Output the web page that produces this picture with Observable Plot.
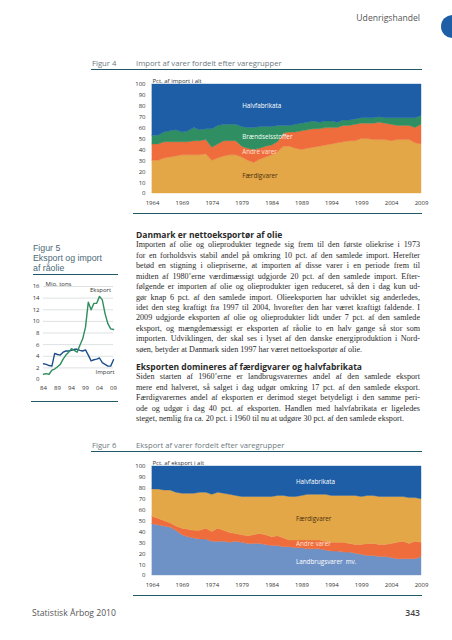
<!DOCTYPE html>
<html><head><meta charset="utf-8">
<script src="https://cdn.jsdelivr.net/npm/d3@7"></script>
<script src="https://cdn.jsdelivr.net/npm/@observablehq/plot@0.6"></script>
<style>
html,body{margin:0;padding:0;background:#fff;}
body{width:452px;height:640px;position:relative;overflow:hidden;font-family:"Open Sans",sans-serif;}
.t{position:absolute;white-space:nowrap;line-height:1;}
.rule{position:absolute;height:1.2px;background:#1f5968;}
.fig{position:absolute;}
.figlab{position:absolute;font-size:7.7px;color:#6c7a80;white-space:nowrap;line-height:1;}
.figtitle{position:absolute;font-size:7.7px;color:#6c7a80;white-space:nowrap;line-height:1;}
.body{position:absolute;left:136px;width:284px;font-family:"Liberation Serif",serif;font-size:8.1px;color:#2a2a2a;}
.line{position:absolute;left:0;width:284px;height:10px;line-height:10px;text-align:justify;text-align-last:justify;}
.line.last{text-align:left;text-align-last:left;}
.head{position:absolute;left:0;font-family:"Open Sans",sans-serif;font-weight:700;font-size:8.5px;color:#2a2a2a;white-space:nowrap;line-height:10px;}
.cap5{position:absolute;left:33px;font-family:"Liberation Sans",sans-serif;font-size:8.8px;line-height:1;color:#4b6a77;white-space:nowrap;}
</style></head>
<body>
<div id="root"></div>
<script>
// ---------- data ----------
const years = [1964,1965,1966,1967,1968,1969,1970,1971,1972,1973,1974,1975,1976,1977,1978,1979,1980,1981,1982,1983,1984,1985,1986,1987,1988,1989,1990,1991,1992,1993,1994,1995,1996,1997,1998,1999,2000,2001,2002,2003,2004,2005,2006,2007,2008,2009];
const yearTicks = [1964,1969,1974,1979,1984,1989,1994,1999,2004,2009];
const pctTicks = [0,10,20,30,40,50,60,70,80,90,100];

// Figur 4: import shares (pct.)
const impGroups = ["Færdigvarer","Andre varer","Brændselsstoffer","Halvfabrikata"];
const impFaerdig = [30,30,32,33,34,35,35,35,35,36,30,32,34,35,35,33,30,28,31,33,35,38,43,43,41,40,41,42,43,44,45,46,47,48,48,50,50,49,49,49,48,49,49,49,46,45];
const impAndre = [15,15,15,14,13,12,12,13,13,13,12,13,14,13,13,10,11,12,10,10,9,9,12,13,15,17,17,17,16,16,15,14,15,14,15,14,14,15,16,15,15,13,13,13,14,18];
const impBraendsel = [8,8,9,10,11,9,10,12,10,10,17,17,15,15,15,18,19,20,20,18,17,15,7,6,7,7,7,7,6,6,6,5,5,5,5,5,5,5,5,5,6,7,7,7,9,8];
const impHalv = [47,47,44,43,42,44,43,40,42,41,41,38,37,37,37,39,40,40,39,39,39,38,38,38,37,36,35,34,35,34,34,35,33,33,32,31,31,31,30,31,31,31,31,31,31,29];

// Figur 6: export shares (pct.)
const expGroups = ["Landbrugsvarer  mv.","Andre varer","Færdigvarer","Halvfabrikata"];
const expLandbrug = [47,46,45,44,41,37,35,34,33,33,31,31,31,30,31,30,29,29,29,28,27,27,26,26,25,25,24,24,24,23,22,22,21,21,20,19,18,18,17,17,16,15,15,15,15,17];
const expAndre = [7,6,5,4,4,6,7,7,8,10,9,12,10,9,7,7,7,8,9,9,8,9,8,6,7,7,8,8,8,8,8,8,9,8,8,9,11,11,11,11,13,15,16,14,16,13];
const expFaerdig = [25,27,28,30,31,32,33,34,35,33,34,33,34,35,35,35,36,35,34,35,37,37,39,40,40,41,42,42,42,43,43,43,43,44,45,44,44,44,44,44,43,42,41,42,40,40];
const expHalv = [21,21,22,22,24,25,25,25,24,24,26,24,25,26,27,28,28,28,28,28,28,27,27,28,28,27,26,26,26,26,27,27,27,27,27,28,27,27,28,28,28,28,28,29,29,30];

// Figur 5: crude oil, mio. tons
const oilYears = [1984,1985,1986,1987,1988,1989,1990,1991,1992,1993,1994,1995,1996,1997,1998,1999,2000,2001,2002,2003,2004,2005,2006,2007,2008,2009];
const oilTicks = [1984,1989,1994,1999,2004,2009];
const tonTicks = [0,2,4,6,8,10,12,14,16];
const oilEksport = [0.9,1.0,0.9,1.6,1.8,2.2,2.6,3.5,4.2,4.7,5.3,5.0,4.7,5.9,7.0,9.0,13.3,12.0,13.1,13.1,14.3,13.7,11.3,9.6,8.7,8.6];
const oilImport = [2.7,2.6,2.4,2.3,4.5,4.3,4.2,4.7,4.9,4.9,5.0,5.2,5.2,5.0,4.9,5.1,4.2,3.2,3.4,3.5,3.7,2.9,2.6,2.3,2.3,3.4];

// texts
const caption5 = ["Figur 5","Eksport og import","af råolie"];
const para1 = [
"Importen af olie og olieprodukter tegnede sig frem til den første oliekrise i 1973",
"for en forholdsvis stabil andel på omkring 10 pct. af den samlede import. Herefter",
"betød en stigning i oliepriserne, at importen af disse varer i en periode frem til",
"midten af 1980’erne værdimæssigt udgjorde 20 pct. af den samlede import. Efter-",
"følgende er importen af olie og olieprodukter igen reduceret, så den i dag kun ud-",
"gør knap 6 pct. af den samlede import. Olieeksporten har udviklet sig anderledes,",
"idet den steg kraftigt fra 1997 til 2004, hvorefter den har været kraftigt faldende. I",
"2009 udgjorde eksporten af olie og olieprodukter lidt under 7 pct. af den samlede",
"eksport, og mængdemæssigt er eksporten af råolie to en halv gange så stor som",
"importen. Udviklingen, der skal ses i lyset af den danske energiproduktion i Nord-",
"søen, betyder at Danmark siden 1997 har været nettoeksportør af olie."];
const para2 = [
"Siden starten af 1960’erne er landbrugsvarernes andel af den samlede eksport",
"mere end halveret, så salget i dag udgør omkring 17 pct. af den samlede eksport.",
"Færdigvarernes andel af eksporten er derimod steget betydeligt i den samme peri-",
"ode og udgør i dag 40 pct. af eksporten. Handlen med halvfabrikata er ligeledes",
"steget, nemlig fra ca. 20 pct. i 1960 til nu at udgøre 30 pct. af den samlede eksport."];

// ---------- helpers ----------
const root = document.getElementById("root");
function el(tag, cls, css, text){const e=document.createElement(tag); if(cls) e.className=cls; Object.assign(e.style,css||{}); if(text!=null) e.textContent=text; root.appendChild(e); return e;}
function rule(x1,x2,y){el("div","rule",{left:x1+"px",top:y+"px",width:(x2-x1)+"px"});}

function longData(groups, arrays){
  const out=[];
  groups.forEach((g,gi)=>years.forEach((yr,i)=>out.push({year:yr,group:g,value:arrays[gi][i]})));
  return out;
}

function stackChart(data, groups, colors, labelYear, labelColors, yLabel){
  const textMarks = groups.map((g,gi)=>Plot.text(data, Plot.stackY({
    x:"year", y:"value", z:"group", order:groups,
    text: d => (d.year===labelYear && d.group===g) ? g : null,
    textAnchor:"start", fill: labelColors[gi], fontSize: 6.3
  })));
  return Plot.plot({
    width:333, height:143, marginLeft:52, marginRight:12, marginTop:14, marginBottom:20,
    style:{fontFamily:"Open Sans", fontSize:"6px", color:"#333", background:"transparent", overflow:"visible"},
    x:{domain:[1964,2009], ticks:yearTicks, tickFormat:d=>String(d), tickSize:0, tickPadding:7, label:null},
    y:{domain:[0,100], ticks:pctTicks, tickSize:0, tickPadding:7, label:null},
    color:{domain:groups, range:colors},
    marks:[
      Plot.areaY(data, {x:"year", y:"value", z:"group", fill:"group", stroke:"group", strokeWidth:0.4, order:groups}),
      ...textMarks,
      Plot.text([yLabel], {frameAnchor:"top-left", text:d=>d, textAnchor:"start", lineAnchor:"bottom", dy:-1.5, fontSize:6, fill:"#333"})
    ]
  });
}

// ---------- header / footer ----------
el("div","t",{right:"32px",top:"14px",fontSize:"8.6px",color:"#555"},"Udenrigshandel");
el("div","",{position:"absolute",left:"441px",top:"15px",width:"23px",height:"23px",borderRadius:"50%",background:"#1d5ea6"});
el("div","t",{left:"32px",top:"609px",fontSize:"8.6px",color:"#555"},"Statistisk Årbog 2010");
el("div","t",{right:"32px",top:"609px",fontSize:"8.6px",color:"#444",fontWeight:"600"},"343");

// ---------- Figur 4 ----------
el("div","figlab",{left:"92px",top:"60px"},"Figur 4");
el("div","figtitle",{left:"136px",top:"60px"},"Import af varer fordelt efter varegrupper");
rule(91,422,69);
const f4 = el("div","fig",{left:"100px",top:"70px"});
f4.appendChild(stackChart(longData(impGroups,[impFaerdig,impAndre,impBraendsel,impHalv]), impGroups,
  ["#e3a747","#ef6c3c","#2f8f62","#1d5ea6"], 1979, ["#4a3010","#fde3d6","#f2fff6","#ffffff"], "Pct. af import i alt"));
rule(133,422,213);

// ---------- Figur 5 ----------
caption5.forEach((s,i)=>el("div","cap5",{top:(244+10.2*i)+"px"},s));
rule(33,118,274);
const oilData = oilYears.map((yr,i)=>({year:yr,eksport:oilEksport[i],import:oilImport[i]}));
const f5 = el("div","fig",{left:"28px",top:"276px"});
f5.appendChild(Plot.plot({
  width:93, height:121, marginLeft:15, marginRight:8, marginTop:10, marginBottom:18,
  style:{fontFamily:"Open Sans", fontSize:"6px", color:"#333", background:"transparent", overflow:"visible"},
  x:{domain:[1984,2009], ticks:oilTicks, tickFormat:d=>String(d).slice(2), tickSize:0, tickPadding:6, label:null},
  y:{domain:[0,16], ticks:tonTicks, tickSize:0, tickPadding:4, label:null},
  marks:[
    Plot.gridY(tonTicks.filter(v=>v>0), {stroke:"#cfd4d6", strokeOpacity:1, strokeWidth:0.7}),
    Plot.lineY(oilData, {x:"year", y:"import", stroke:"#1f4f8c", strokeWidth:1.4}),
    Plot.lineY(oilData, {x:"year", y:"eksport", stroke:"#2f8d5e", strokeWidth:1.4}),
    Plot.text(oilData.filter(d=>d.year===2004), {x:"year", y:"eksport", text:()=>"Eksport", dy:-6, dx:1, fontSize:6, fill:"#333"}),
    Plot.text(oilData.filter(d=>d.year===2006), {x:"year", y:"import", text:()=>"Import", dy:8, fontSize:6, fill:"#333"}),
    Plot.text(["Mio. tons"], {frameAnchor:"top-left", text:d=>d, textAnchor:"start", dx:2, dy:-5, fontSize:6, fill:"#333"})
  ]
}));
rule(31,118,401);

// ---------- body text ----------
function block(top, heading, lines){
  const b = el("div","body",{top:top+"px"});
  const h = document.createElement("div"); h.className="head"; h.style.top="0px"; h.textContent=heading; b.appendChild(h);
  lines.forEach((s,i)=>{
    const d=document.createElement("div"); d.className="line"+(i===lines.length-1?" last":"");
    d.style.top=(10.43*(i+1))+"px"; d.textContent=s; b.appendChild(d);
  });
}
block(230, "Danmark er nettoeksportør af olie", para1);
block(362, "Eksporten domineres af færdigvarer og halvfabrikata", para2);

// ---------- Figur 6 ----------
el("div","figlab",{left:"92px",top:"442px"},"Figur 6");
el("div","figtitle",{left:"136px",top:"442px"},"Eksport af varer fordelt efter varegrupper");
rule(91,422,451);
const f6 = el("div","fig",{left:"100px",top:"452px"});
f6.appendChild(stackChart(longData(expGroups,[expLandbrug,expAndre,expFaerdig,expHalv]), expGroups,
  ["#6f92c6","#ef6c3c","#e3a747","#1d5ea6"], 1988, ["#ffffff","#fde3d6","#4a3010","#ffffff"], "Pct. af eksport i alt"));
rule(133,422,595);
</script>
</body></html>
